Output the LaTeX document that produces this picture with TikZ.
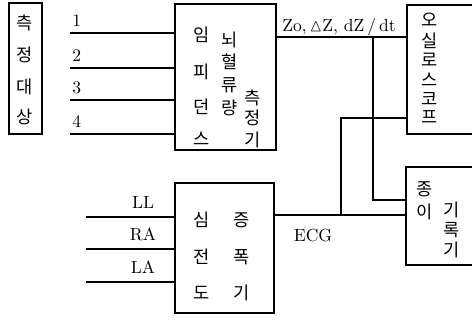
\documentclass[tikz,border=0pt]{standalone}
\usepackage{amssymb}
\usepackage{fontspec}
\newfontfamily\kr{Noto Sans CJK KR}
\tikzset{
	blk/.style={draw, line width=0.9pt, inner sep=0pt},
	kor/.style={font=\kr\fontsize{10}{11}\selectfont, inner sep=0pt},
	lbl/.style={font=\fontsize{10}{12}\selectfont, inner sep=0pt},
	wire/.style={line width=0.9pt}
}
\begin{document}
\begin{tikzpicture}[x=0.02cm,y=-0.02cm]
		\useasboundingbox (0,0) rectangle (472,320);
		\clip (0,0) rectangle (472,320);
		% boxes
		\node[blk, minimum width=0.66cm, minimum height=2.62cm] (target) at (25.5,68.5) {};
		\node[blk, minimum width=2.02cm, minimum height=2.92cm] (imp) at (225.5,77) {};
		\node[blk, minimum width=1.98cm, minimum height=2.6cm] (ecg) at (224.5,248) {};
		\node[blk, minimum width=1.6cm, minimum height=2.58cm] (osc) at (447,69.5) {};
		\node[blk, minimum width=1.6cm, minimum height=1.96cm] (rec) at (446,216) {};
		% texts in the boxes
		\foreach \c/\y [count=\i] in {측/23,정/55,대/87,상/117}
		\node[kor] (ta\i) at (25,\y) {\c};
		\foreach \c/\y [count=\i] in {임/35,피/72,던/107,스/139}
		\node[kor] (ia\i) at (202,\y) {\c};
		\foreach \c/\y [count=\i] in {뇌/40,혈/62,류/85,량/108}
		\node[kor] (ib\i) at (230,\y) {\c};
		\foreach \c/\y [count=\i] in {측/98,정/118,기/140}
		\node[kor] (ic\i) at (253,\y) {\c};
		\foreach \c/\y [count=\i] in {오/20,실/41,로/60,스/80,코/99,프/117}
		\node[kor] (oa\i) at (430,\y) {\c};
		\foreach \c/\y [count=\i] in {종/189,이/212}
		\node[kor] (ra\i) at (425,\y) {\c};
		\foreach \c/\y [count=\i] in {기/210,록/230,기/250}
		\node[kor] (rb\i) at (452,\y) {\c};
		\foreach \c/\y [count=\i] in {심/220,전/257,도/293}
		\node[kor] (ea\i) at (202,\y) {\c};
		\foreach \c/\y [count=\i] in {증/220,폭/257,기/293}
		\node[kor] (eb\i) at (242,\y) {\c};
		% inputs
		\foreach \n/\y in {1/33,2/68,3/100,4/134}
		{
		\coordinate (in\n) at (70,\y);
		\draw[wire] (in\n) to (in\n -| imp.west);
		\node[lbl, anchor=south west] (n\n) at (72,\y-6) {\n};
		}
		\foreach \n/\y in {LL/217,RA/249,LA/282}
		{
		\coordinate (e\n) at (86,\y);
		\draw[wire] (e\n) to (e\n -| ecg.west);
		\node[lbl, anchor=south] (l\n) at (143,\y-8) {\n};
		}
		% outputs
		\coordinate (zo) at (imp.east |- 0,37);
		\draw[wire] (zo) to (zo -| osc.west);
		\node[lbl, anchor=base] (zolbl) at (339,32) {Zo,\,$\vartriangle$Z, dZ\,/\,dt};
		\coordinate (ja) at (373,37);
		\coordinate (jb) at (373,118);
		\coordinate (jc) at (341,215);
		\draw[wire] (ja) |- (rec.west |- 0,200);
		\draw[wire] (osc.west |- jb) -| (jc);
		\fill (jb) circle (1pt);
		\coordinate (ecgout) at (ecg.east |- jc);
		\draw[wire] (ecgout) to (ecgout -| rec.west);
		\node[lbl, anchor=base] (ecglbl) at (313,241) {ECG};
	\end{tikzpicture}
\end{document}
